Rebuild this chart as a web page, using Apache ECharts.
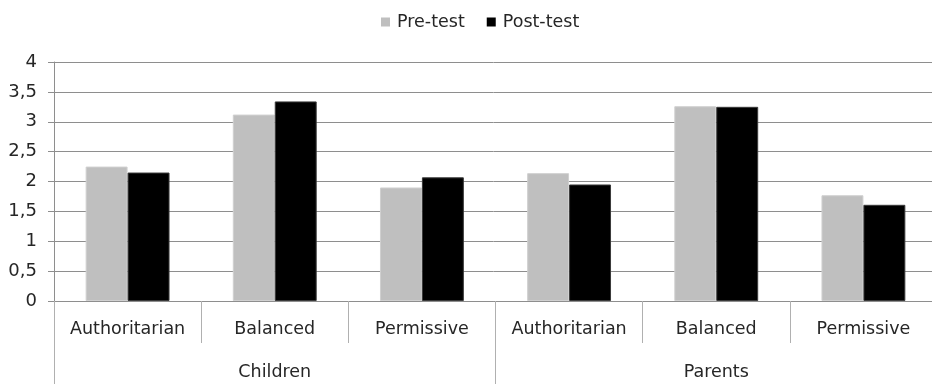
<!DOCTYPE html>
<html>
<head>
<meta charset="utf-8">
<script src="https://cdn.jsdelivr.net/npm/echarts@6/dist/echarts.min.js"></script>
<style>
  html, body { margin: 0; padding: 0; background: #fff; }
  #box { width: 932px; height: 384px; }
</style>
</head>
<body>
<div id="box"></div>
<script>
// data
var styles = ['Authoritarian', 'Balanced', 'Permissive', 'Authoritarian', 'Balanced', 'Permissive'];
var groups = ['Children', 'Parents'];
var seriesNames = ['Pre-test', 'Post-test'];
var preTest = [2.25, 3.12, 1.90, 2.14, 3.26, 1.77];
var postTest = [2.15, 3.34, 2.07, 1.95, 3.25, 1.61];
var yTicks = ['0', '0,5', '1', '1,5', '2', '2,5', '3', '3,5', '4'];

var font = '"DejaVu Sans", sans-serif';
var lineGrey = '#8e8e8e';

var myChart = echarts.init(document.getElementById('box'));

var option = {
    backgroundColor: '#fff',
    animation: false,
    color: ['#bfbfbf', '#000000'],
    legend: {
        left: 376,
        top: 8,
        itemWidth: 9,
        itemHeight: 9,
        itemGap: 22,
        icon: 'rect',
        itemStyle: { borderWidth: 0 },
        textStyle: { fontFamily: font, fontSize: 17.5, color: '#262626', padding: [0, 0, 0, 2] },
        data: seriesNames
    },
    grid: {
        left: 54,
        top: 62,
        bottom: 83,
        width: 883,
        outerBoundsMode: 'none'
    },
    xAxis: [{
        type: 'category',
        data: styles,
        position: 'bottom',
        axisLine: { lineStyle: { color: lineGrey } },
        axisTick: { show: true, length: 42, interval: 0, lineStyle: { color: '#b0b0b0' } },
        axisLabel: { interval: 0, margin: 19, fontFamily: font, fontSize: 17.5, color: '#262626' },
        splitLine: { show: false }
    }, {
        type: 'category',
        data: groups,
        position: 'bottom',
        axisLine: { show: false },
        axisTick: { show: true, length: 83, interval: 0, lineStyle: { color: '#b0b0b0' } },
        axisLabel: { interval: 0, margin: 62, fontFamily: font, fontSize: 17.5, color: '#262626' },
        splitLine: { show: false }
    }],
    yAxis: {
        type: 'value',
        min: 0,
        max: 4,
        interval: 0.5,
        axisLine: { show: true, lineStyle: { color: lineGrey } },
        axisTick: { show: true, length: 6, lineStyle: { color: lineGrey } },
        axisLabel: {
            margin: 17,
            fontFamily: font,
            fontSize: 18,
            color: '#262626',
            formatter: function (v) { return yTicks[Math.round(v / 0.5)]; }
        },
        splitLine: { show: true, lineStyle: { color: lineGrey, width: 1 } }
    },
    series: [{
        name: seriesNames[0],
        type: 'bar',
        xAxisIndex: 0,
        barGap: 0,
        barCategoryGap: '43%',
        itemStyle: { borderColor: '#d0d0d0', borderWidth: 1 },
        data: preTest
    }, {
        name: seriesNames[1],
        type: 'bar',
        xAxisIndex: 0,
        itemStyle: { borderColor: '#3a3a3a', borderWidth: 1 },
        data: postTest
    }]
};

myChart.setOption(option);
</script>
</body>
</html>
